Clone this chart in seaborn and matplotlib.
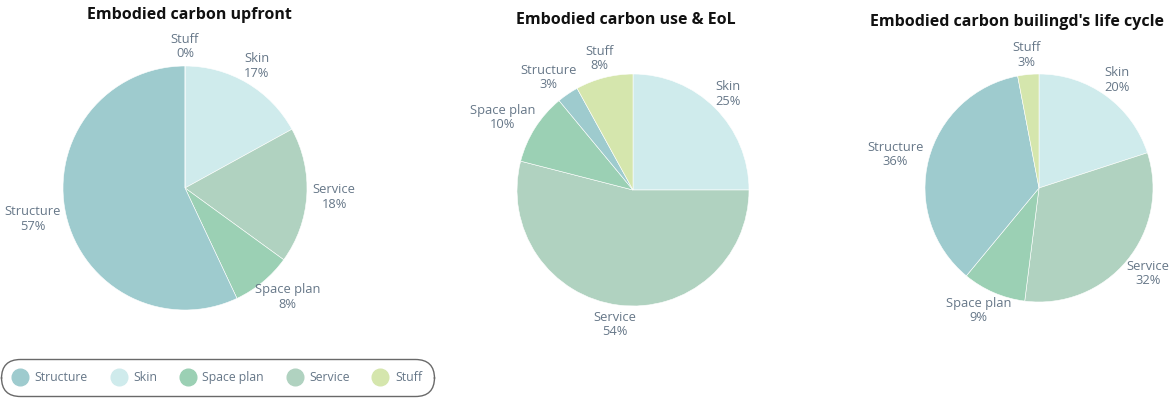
import matplotlib
matplotlib.use("Agg")
import numpy as np
import matplotlib.pyplot as plt
from matplotlib.lines import Line2D
import seaborn as sns

categories = ["Skin", "Service", "Space plan", "Structure", "Stuff"]
upfront = [17, 18, 8, 57, 0]
use_eol = [25, 54, 10, 3, 8]
life_cycle = [20, 32, 9, 36, 3]
titles = ["Embodied carbon upfront", "Embodied carbon use & EoL", "Embodied carbon builingd's life cycle"]
legend_order = ["Structure", "Skin", "Space plan", "Service", "Stuff"]

colors = {
    "Structure": "#9ecbce",
    "Skin": "#cfebec",
    "Space plan": "#9bd0b4",
    "Service": "#b0d2c0",
    "Stuff": "#d5e6ad",
}

sns.set_theme(style="white")
plt.rcParams["font.family"] = ["Open Sans", "DejaVu Sans"]

W, H = 1169, 401
fig = plt.figure(figsize=(W / 100, H / 100), dpi=100)

label_color = "#667788"
gap_px = 6

layout = [
    ((185, 188, 122), (189, 15)),
    ((633, 190, 116), (626, 20)),
    ((1039, 188, 114), (1017, 22)),
]
datasets = [upfront, use_eol, life_cycle]

renderer = fig.canvas.get_renderer()
for (geom, tpos), values, title in zip(layout, datasets, titles):
    cx, cy, r = geom
    size = 2.5 * r
    ax = fig.add_axes([(cx - size / 2) / W, (H - cy - size / 2) / H, size / W, size / H])
    labels = [f"{c}\n{v}%" for c, v in zip(categories, values)]
    wedges, texts = ax.pie(
        values,
        labels=labels,
        colors=[colors[c] for c in categories],
        startangle=90,
        counterclock=False,
        labeldistance=1.0,
        wedgeprops=dict(linewidth=0.4, edgecolor="white"),
        textprops=dict(color=label_color, fontsize=9.3, linespacing=1.15),
    )
    ax.set_aspect("equal")
    px_per_unit = r
    for w, t in zip(wedges, texts):
        t.set_ha("center")
        t.set_va("center")
        ang = np.deg2rad((w.theta1 + w.theta2) / 2)
        ux, uy = np.cos(ang), np.sin(ang)
        bb = t.get_window_extent(renderer)
        tw, th = bb.width, bb.height
        dist = 1 + gap_px / px_per_unit
        x = ux * dist + (tw / 2) * ux / px_per_unit
        y = uy * dist + (th / 2) * uy / px_per_unit
        t.set_position((x, y))
    fig.text(tpos[0] / W, 1 - tpos[1] / H, title, ha="center", va="center",
             fontsize=11.5, fontweight="bold", color="#111111")

handles = [Line2D([0], [0], marker="o", linestyle="", markersize=12,
                  markerfacecolor=colors[c], markeredgecolor=colors[c]) for c in legend_order]
leg = fig.legend(handles, legend_order, loc="center", bbox_to_anchor=(217.5 / W, 1 - 377.5 / H),
                 ncol=5, frameon=True, fontsize=8.8, labelcolor=label_color,
                 handletextpad=0.6, columnspacing=1.9, borderpad=0.9, handlelength=1.2)
frame = leg.get_frame()
frame.set_edgecolor("#444444")
frame.set_linewidth(1.0)
frame.set_boxstyle("round,pad=0.1,rounding_size=1.6")

fig.savefig("out.png", dpi=100)
